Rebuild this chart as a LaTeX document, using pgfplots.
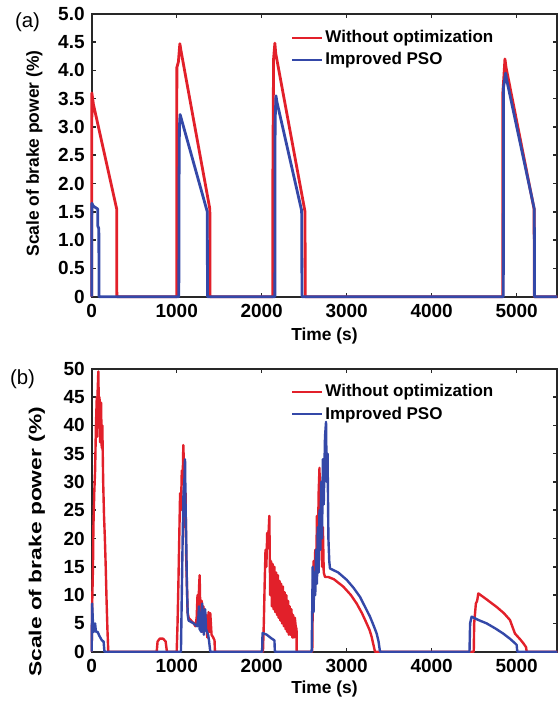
\documentclass[border=0pt]{standalone}
\usepackage{fontspec}
\setmainfont{Liberation Sans}
\usepackage{pgfplots}
\pgfplotsset{compat=1.18}

\definecolor{wored}{RGB}{226,32,42}
\definecolor{psoblue}{RGB}{52,72,168}
\definecolor{axgray}{RGB}{40,40,40}

\pgfplotsset{
  brake/.style={
    scale only axis, width=232.8pt, height=141.5pt,
    xmin=0, xmax=5478,
    xtick={0,1000,...,5000}, xticklabels={0,1000,2000,3000,4000,5000},
    tick align=inside, major tick length=2pt,
    axis line style={axgray, line width=0.9pt},
    tick style={axgray, line width=0.8pt},
    /pgf/number format/assume math mode=true,
    tick label style={font=\fontsize{9.5}{10}\selectfont\bfseries},
    label style={font=\fontsize{8.7}{10}\selectfont\bfseries},
    xlabel={Time (s)}, ylabel={Scale of brake power (\%)},
    legend style={draw=none, fill=none, font=\fontsize{8.5}{10}\selectfont\bfseries,
      anchor=north west, inner sep=0pt, row sep=1.5pt, nodes={inner sep=1pt},
      cells={anchor=west}},
    legend image code/.code={\draw[#1, line width=1pt] (0pt,0pt) -- (15pt,0pt);},
    clip=false,
    every axis plot/.append style={line join=round},
  }
}

\begin{document}
\begin{tikzpicture}
\useasboundingbox (0,0) rectangle (279pt,351pt);

% (a)
\begin{axis}[brake, at={(45.85pt,202.65pt)}, anchor=origin,
  ymin=0, ymax=5, ytick={0,0.5,...,5},
  yticklabels={0,0.5,1.0,1.5,2.0,2.5,3.0,3.5,4.0,4.5,5.0},
  xlabel style={at={(axis description cs:0.5,0)}, yshift=-19.5pt, anchor=center},
  ylabel style={at={(axis description cs:-0.1229,0.506)}, anchor=center},
  legend style={at={(axis description cs:0.428,0.951)}}]
\addplot[wored, line width=1.4pt] coordinates {
  (0,0) (2,3.6) (20,3.4) (294,1.55) (296,0)
  (1000,0) (1002,4.05) (1020,4.15) (1037,4.47) (1050,4.35) (1390,1.55) (1392,0)
  (2130,0) (2132,2.4) (2140,4.2) (2155,4.48) (2165,4.3) (2510,1.5) (2512,0)
  (4835,0) (4837,3.6) (4850,3.9) (4862,4.2) (4875,4.05) (5205,1.55) (5207,0)
  (5478,0)
};
\addlegendentry{Without optimization}
\addplot[psoblue, line width=1.4pt] coordinates {
  (0,0) (2,1.65) (20,1.6) (70,1.55) (72,1.25) (84,1.2) (86,0)
  (1025,0) (1028,2.1) (1032,3.0) (1040,3.22) (1360,1.5) (1362,0)
  (2155,0) (2158,3.1) (2168,3.55) (2178,3.45) (2470,1.52) (2472,0.9) (2474,0)
  (4843,0) (4845,3.7) (4870,3.95) (4880,3.85) (5207,1.55) (5209,0.85) (5210,0)
  (5478,0)
};
\addlegendentry{Improved PSO}
\end{axis}

% (b)
\begin{axis}[brake, at={(45.85pt,25.15pt)}, anchor=origin,
  ymin=0, ymax=50, ytick={0,5,...,50},
  yticklabels={0,5,10,15,20,25,30,35,40,45,50},
  xlabel style={at={(axis description cs:0.5,0)}, yshift=-18.5pt, anchor=center},
  ylabel style={at={(axis description cs:-0.118,0.388)}, anchor=center, xscale=1.31},
  legend style={at={(axis description cs:0.428,0.953)}}]
\addplot[wored, line width=1.2pt] coordinates {
  (0,0) (5,8) (15,15) (20,22) (30,28) (40,32) (50,40) (60,45) (65,38) (70,46)
  (78,49.5) (85,42) (92,45) (100,37) (110,44) (118,36) (125,40) (135,30) (145,24)
  (155,20) (165,15) (175,9) (185,4) (195,0)
  (765,0) (775,1.8) (800,2.3) (840,2.3) (870,1.8) (885,0)
  (1000,0) (1010,5) (1020,12) (1030,20) (1040,28) (1050,25) (1060,32) (1070,30)
  (1078,36.5) (1085,33) (1095,22) (1105,28) (1110,18) (1118,13) (1128,7) (1140,6)
  (1170,5.5) (1200,5) (1220,4.5) (1235,6) (1245,10) (1255,8) (1265,12) (1270,13.5)
  (1278,7) (1285,4) (1295,9) (1305,3.5) (1315,8) (1330,4) (1345,6.5) (1360,2.5)
  (1375,7) (1385,3.5) (1395,6.8) (1410,3) (1430,2.5) (1445,2) (1450,0)
  (2015,0) (2025,5) (2035,12) (2045,18) (2055,15) (2065,21) (2075,19) (2090,24)
  (2100,10) (2110,16) (2120,8) (2130,15.5) (2140,7.5) (2150,15) (2160,7) (2170,14)
  (2180,6.5) (2190,13.5) (2200,6) (2210,12.5) (2220,5.5) (2230,12) (2240,5)
  (2250,11.5) (2260,4.5) (2270,10.5) (2280,4) (2290,10) (2300,3.5) (2310,9)
  (2320,3) (2330,8) (2340,3) (2350,7.5) (2360,2.5) (2370,6.5) (2380,2.5) (2390,6)
  (2400,4.5) (2410,4) (2412,0)
  (2595,0) (2600,8) (2610,16) (2620,10) (2630,18) (2640,12) (2650,24) (2660,17)
  (2670,28) (2680,32.5) (2690,20) (2700,26) (2710,15) (2720,22) (2730,14)
  (2745,13.2) (2784,13.2) (2850,12.8) (2960,11.5) (3050,10) (3118,8.5) (3180,6.8)
  (3235,5) (3270,3.8) (3294,2.6) (3315,1.2) (3333,0)
  (4495,0) (4500,5) (4520,8.5) (4535,9) (4549,10.3) (4650,9.2) (4765,7.9)
  (4850,6.8) (4921,5.6) (4960,4) (4980,3.2) (5040,2.2) (5078,1.5) (5110,0.8) (5118,0)
  (5478,0)
};
\addlegendentry{Without optimization}
\addplot[psoblue, line width=1.2pt] coordinates {
  (0,0) (5,8.5) (15,5) (25,3.5) (40,5) (50,3.5) (70,3.5) (90,2.8) (120,2) (140,1.8) (150,0)
  (1050,0) (1060,10) (1070,20) (1080,28) (1090,30) (1098,34) (1105,25) (1112,20)
  (1120,12) (1130,6.5) (1140,5.5) (1200,5) (1240,4.5) (1255,6) (1262,8) (1270,4)
  (1290,3.5) (1300,8.5) (1310,5) (1320,3) (1335,7.5) (1345,4) (1370,3) (1380,2) (1395,0)
  (2005,0) (2010,3.3) (2060,3.0) (2110,2.4) (2150,2.0) (2155,0)
  (2588,0) (2595,8) (2600,15) (2610,7) (2620,14) (2630,10) (2640,18) (2650,12)
  (2660,22) (2670,14) (2680,25) (2690,18) (2700,30) (2710,20) (2720,34) (2730,26)
  (2745,38) (2757,40.6) (2765,30) (2775,35) (2785,20) (2795,16) (2804,14.7)
  (2900,14.0) (3000,12.7) (3080,11.3) (3156,9.7) (3220,7.8) (3274,6.2) (3320,4.5)
  (3353,3.2) (3375,1.8) (3392,0)
  (4445,0) (4452,5) (4470,6.2) (4550,5.6) (4647,5.0) (4750,4.1) (4842,3.2)
  (4920,2.3) (4980,1.5) (5000,1.2) (5007,0)
  (5478,0)
};
\addlegendentry{Improved PSO}
\end{axis}

\node[font=\fontsize{10.2}{12}\selectfont] at (13.75pt,339.75pt) {(a)};
\node[font=\fontsize{10.2}{12}\selectfont] at (11.25pt,161.5pt) {(b)};
\end{tikzpicture}
\end{document}
